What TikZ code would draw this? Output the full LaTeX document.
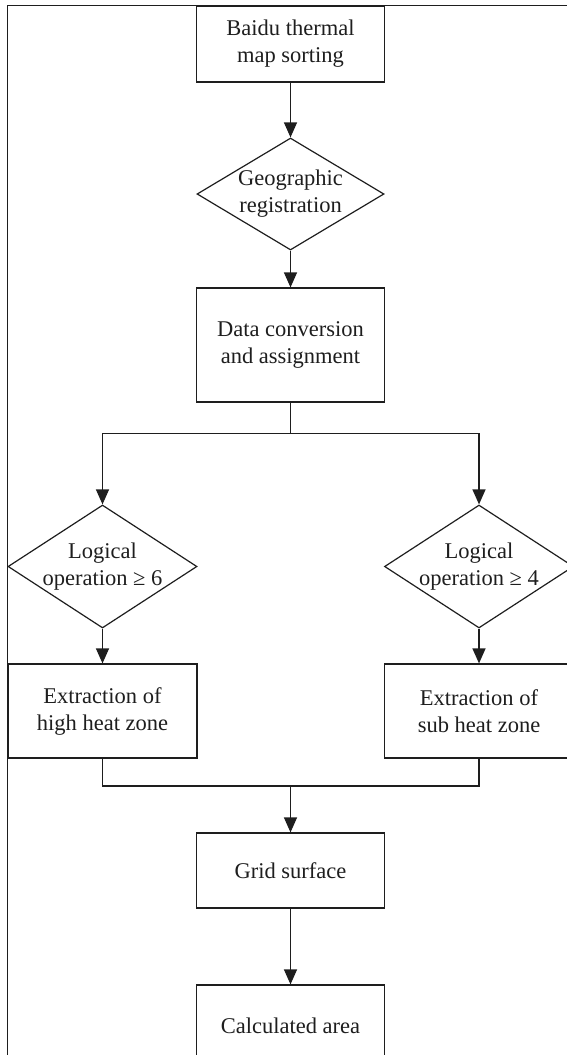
\documentclass[tikz,border=0pt]{standalone}
\usepackage{fontspec}
\setmainfont{Liberation Serif}
\usetikzlibrary{arrows.meta,shapes.geometric}
\definecolor{ink}{HTML}{1E1E1E}
\tikzset{txtfont/.style={font=\fontsize{22.5}{27}\selectfont, text=ink}}
\begin{document}
\begin{tikzpicture}[x=1pt,y=-1pt,
  every node/.style={txtfont},
  boxnode/.style={draw=ink, line width=1.2pt, rectangle, minimum width=188pt, inner sep=0pt, align=center},
  dianode/.style={draw=ink, line width=1.2pt, diamond, inner sep=0pt},
  conn/.style={draw=ink, line width=1.2pt},
  arr/.style={conn, -{Triangle[length=15pt,width=13pt]}}
]
\useasboundingbox (0,0) rectangle (567,1055);
% frame
\draw[conn] (7.5,1070) -- (7.5,5.5) -- (580,5.5);

\node[boxnode, minimum height=76pt] (b1) at (290.5,44) {Baidu thermal\\map sorting};
\node[dianode, minimum width=187pt, minimum height=112pt,
  label={[align=center,txtfont]center:Geographic\\registration}] (d1) at (290.5,194) {};
\node[boxnode, minimum height=114pt] (b2) at (290.5,345) {Data conversion\\and assignment};
\node[dianode, minimum width=189pt, minimum height=123pt,
  label={[align=center,txtfont]center:Logical\\operation ≥ 6}] (dl) at (102.5,566.5) {};
\node[dianode, minimum width=189pt, minimum height=123pt,
  label={[align=center,txtfont]center:Logical\\operation ≥ 4}] (dr) at (479,566.5) {};
\node[boxnode, minimum width=189pt, minimum height=94pt] (bl) at (102.5,711) {Extraction of\\high heat zone};
\node[boxnode, minimum width=189pt, minimum height=94pt] (br) at (479,711) {Extraction of\\sub heat zone};
\node[boxnode, minimum height=75pt] (g) at (290.5,870.5) {Grid surface};
\node[boxnode, minimum height=82pt] (c) at (290.5,1026) {Calculated area};

\coordinate (s) at (290.5,433.5);
\coordinate (m) at (290.5,786);

\draw[arr] (b1.south) -- (d1.north);
\draw[arr] (d1.south) -- (b2.north);
\draw[conn] (b2.south) -- (s);
\draw[arr] (s) -| (dl.north);
\draw[arr] (s) -| (dr.north);
\draw[arr] (dl.south) -- (bl.north);
\draw[arr] (dr.south) -- (br.north);
\draw[conn] (bl.south) |- (m);
\draw[conn] (br.south) |- (m);
\draw[arr] (m) -- (g.north);
\draw[arr] (g.south) -- (c.north);
\end{tikzpicture}
\end{document}
